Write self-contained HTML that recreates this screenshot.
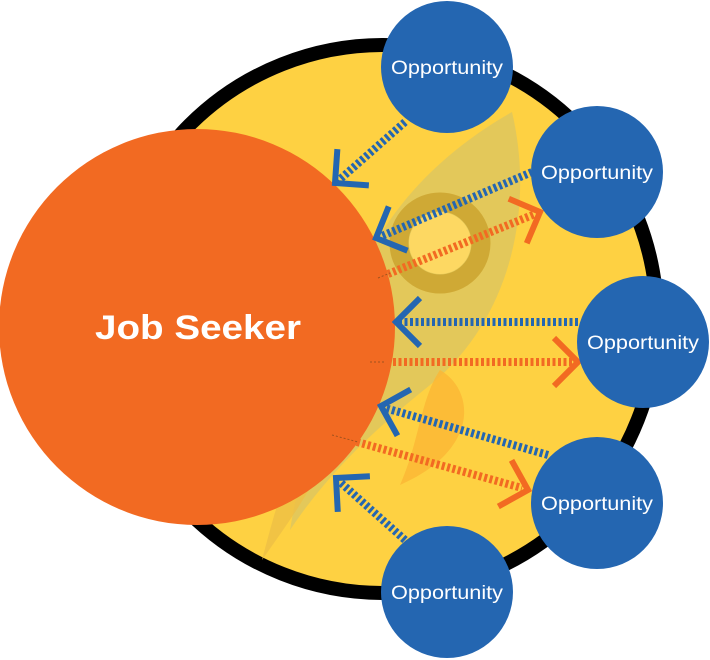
<!DOCTYPE html>
<html><head><style>
html,body{margin:0;padding:0;background:#fff;}
svg{display:block}
text{font-family:"Liberation Sans",sans-serif;fill:#fff}
</style></head><body>
<svg width="710" height="660" viewBox="0 0 710 660" xmlns="http://www.w3.org/2000/svg">
<circle cx="383" cy="319" r="274" fill="#fed142" stroke="#000" stroke-width="14"/>
<!-- rocket -->
<path d="M512,112 C535,210 510,320 430,385 C380,425 330,470 290,530 C300,470 320,400 340,330 C360,250 410,170 512,112 Z" fill="#d9c463" opacity="0.75"/>
<path d="M440,370 C475,390 480,450 400,485 C420,440 420,400 440,370 Z" fill="#fbb735" opacity="0.8"/>
<path d="M300,440 C280,490 270,530 262,560 C290,520 320,480 330,440 Z" fill="#eebf45" opacity="0.8"/>
<circle cx="440" cy="243" r="41" fill="none" stroke="#cfa935" stroke-width="19"/>
<circle cx="440" cy="243" r="31" fill="#fdd862"/>
<circle cx="197" cy="327" r="198" fill="#f26a22"/>
<g fill="none" stroke-width="8" stroke-dasharray="3,2.5">
<line x1="405" y1="122" x2="338" y2="181" stroke="#2466b1"/>
<line x1="532" y1="172" x2="382" y2="236" stroke="#2466b1"/>
<line x1="578" y1="322" x2="400" y2="322" stroke="#2466b1"/>
<line x1="548" y1="455" x2="385" y2="408" stroke="#2466b1"/>
<line x1="405" y1="540" x2="340" y2="482" stroke="#2466b1"/>
<line x1="388" y1="274" x2="535" y2="214" stroke="#f26a22"/>
<line x1="382" y1="362" x2="573" y2="362" stroke="#f26a22"/>
<line x1="357" y1="442" x2="522" y2="488" stroke="#f26a22"/>
</g>
<g fill="none" stroke-width="1" stroke-dasharray="2,2" stroke="#a0521e">
<line x1="378" y1="278" x2="390" y2="273"/>
<line x1="370" y1="362" x2="384" y2="362"/>
<line x1="332" y1="435" x2="358" y2="442"/>
</g>
<g fill="none" stroke-width="6">
<polyline points="-24,-24 0,0 -24,24" stroke="#2466b1" transform="translate(335,183) rotate(139)"/>
<polyline points="-24,-24 0,0 -24,24" stroke="#2466b1" transform="translate(376,238) rotate(157)"/>
<polyline points="-24,-24 0,0 -24,24" stroke="#2466b1" transform="translate(396,322) rotate(180)"/>
<polyline points="-24,-24 0,0 -24,24" stroke="#2466b1" transform="translate(381,406) rotate(196)"/>
<polyline points="-24,-24 0,0 -24,24" stroke="#2466b1" transform="translate(336,478) rotate(222)"/>
<polyline points="-24,-24 0,0 -24,24" stroke="#f26a22" transform="translate(540,212) rotate(-22)"/>
<polyline points="-24,-24 0,0 -24,24" stroke="#f26a22" transform="translate(578,362)"/>
<polyline points="-24,-24 0,0 -24,24" stroke="#f26a22" transform="translate(528,490) rotate(16)"/>
</g>
<g fill="#2466b1">
<circle cx="447" cy="67" r="66"/>
<circle cx="597" cy="172" r="66"/>
<circle cx="643" cy="342" r="66"/>
<circle cx="597" cy="503" r="66"/>
<circle cx="447" cy="592" r="66"/>
</g>
<g font-size="19" text-anchor="middle">
<text x="447" y="74" textLength="112" lengthAdjust="spacingAndGlyphs">Opportunity</text>
<text x="597" y="179" textLength="112" lengthAdjust="spacingAndGlyphs">Opportunity</text>
<text x="643" y="349" textLength="112" lengthAdjust="spacingAndGlyphs">Opportunity</text>
<text x="597" y="510" textLength="112" lengthAdjust="spacingAndGlyphs">Opportunity</text>
<text x="447" y="599" textLength="112" lengthAdjust="spacingAndGlyphs">Opportunity</text>
</g>
<text x="198" y="339" font-size="34" font-weight="bold" text-anchor="middle" textLength="206" lengthAdjust="spacingAndGlyphs">Job Seeker</text>
</svg>
</body></html>
